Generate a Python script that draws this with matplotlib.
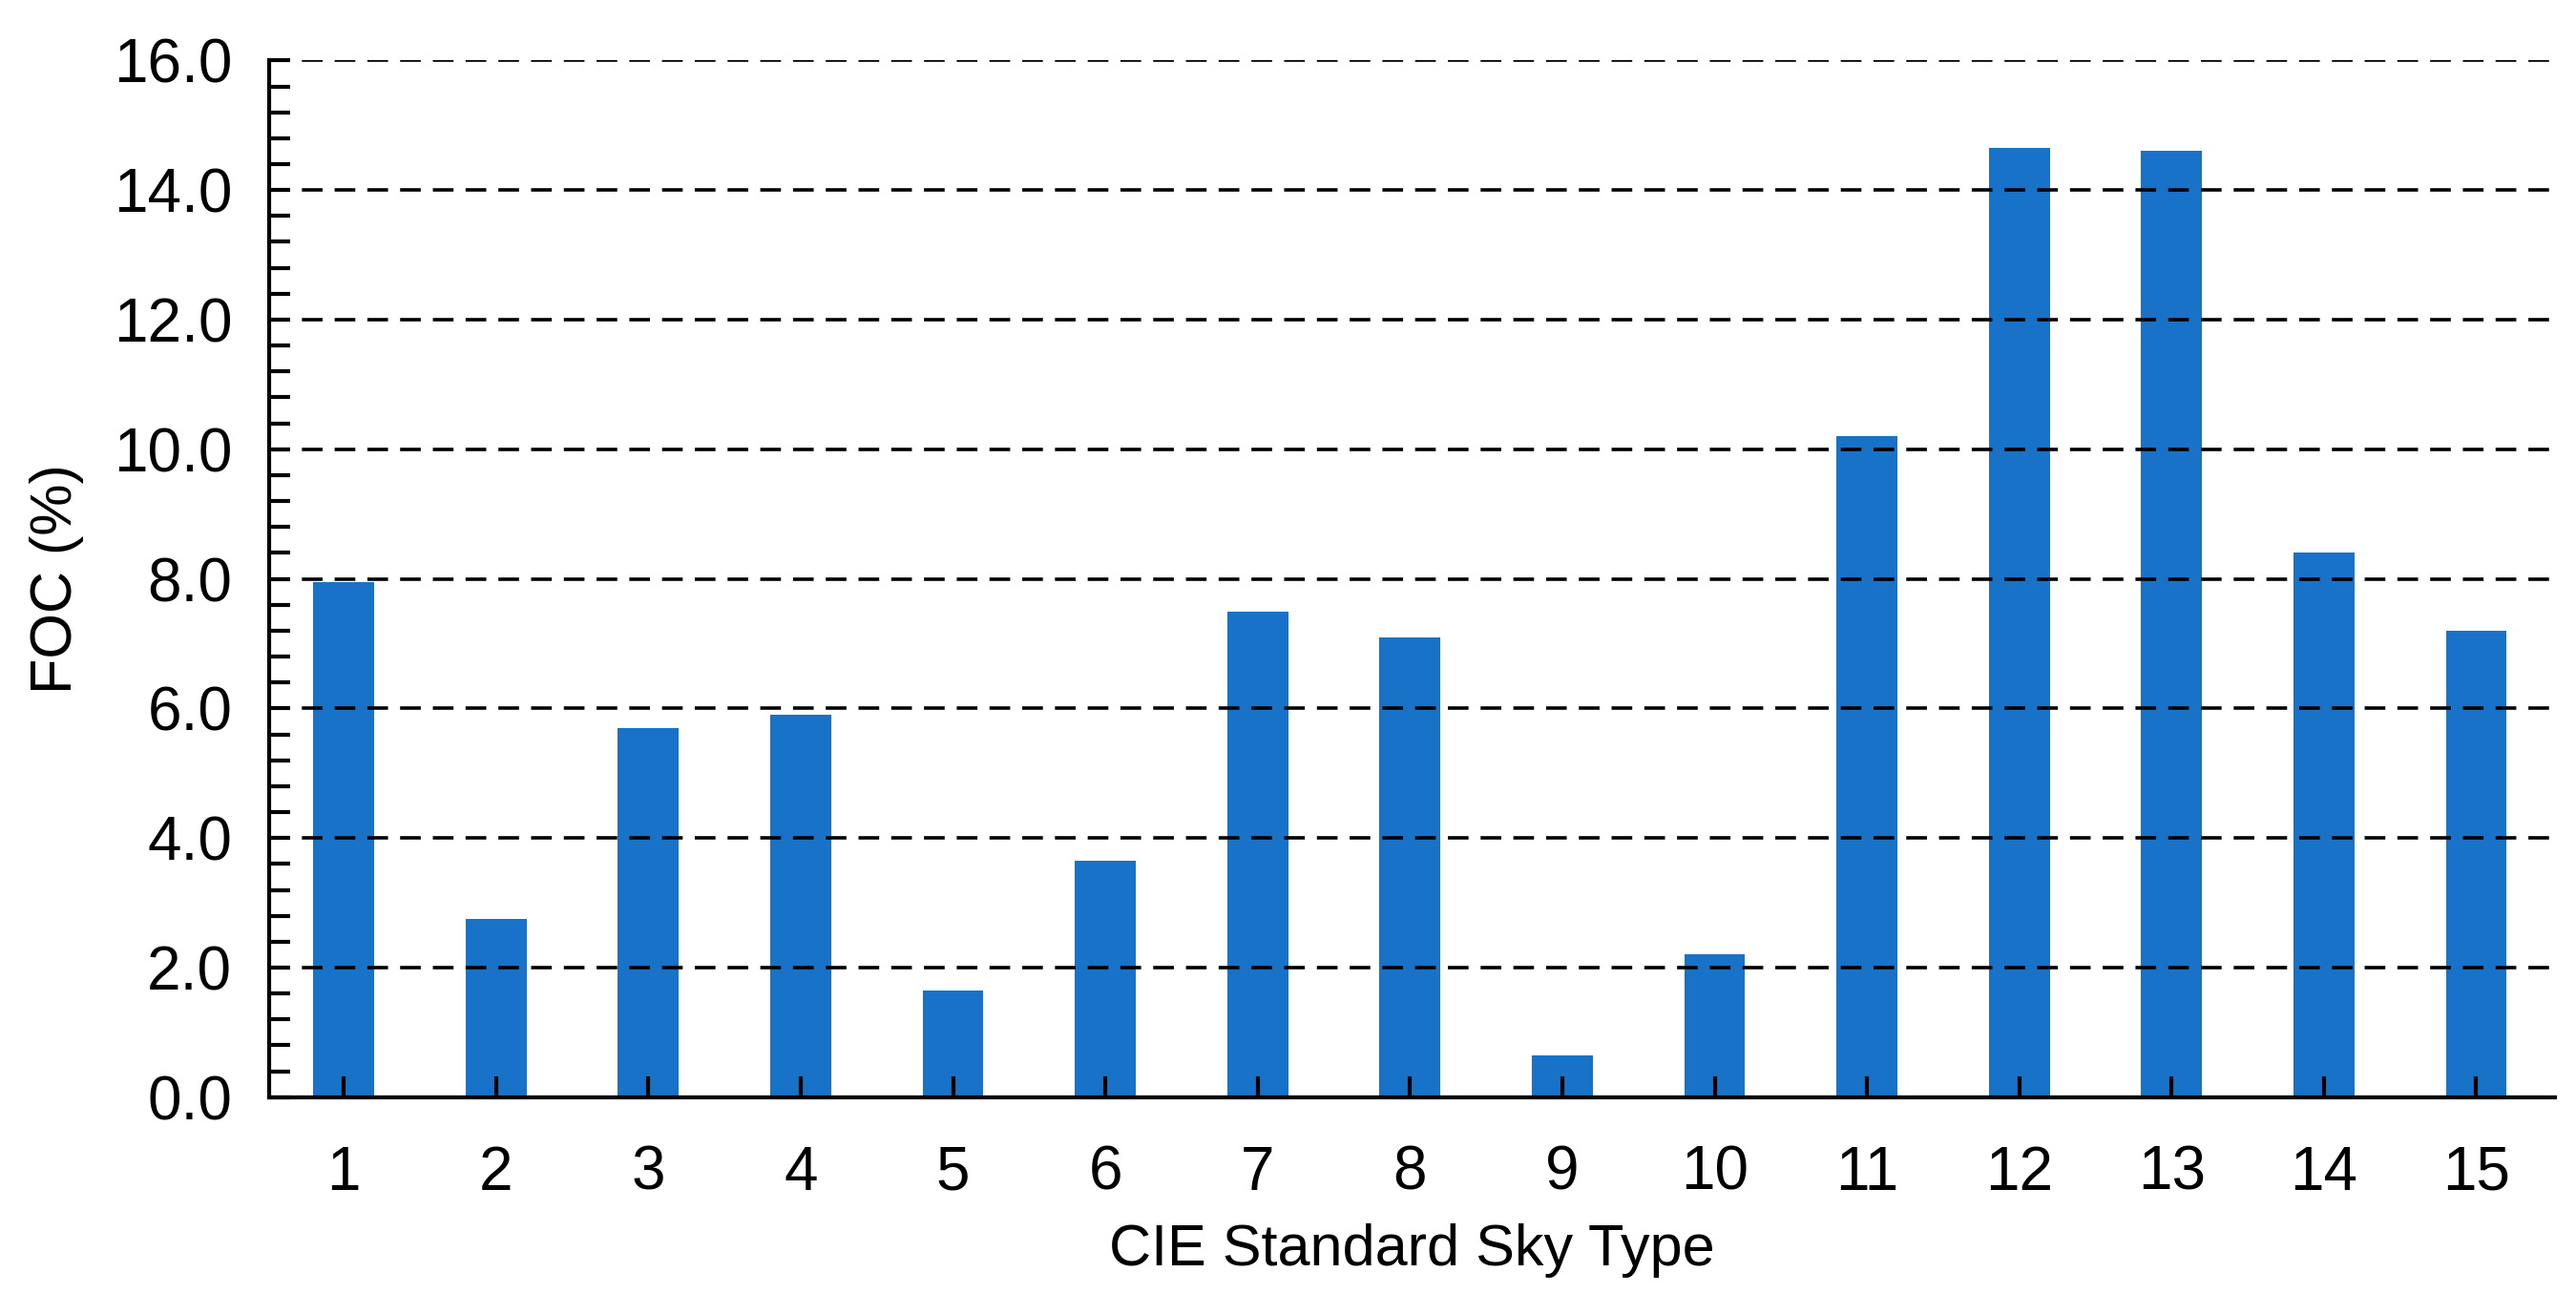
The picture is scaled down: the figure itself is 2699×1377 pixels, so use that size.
import matplotlib
matplotlib.use("Agg")
import matplotlib.pyplot as plt
from matplotlib.ticker import MultipleLocator

plt.rcParams['font.family'] = ['Liberation Sans', 'DejaVu Sans']

sky_types = list(range(1, 16))
foc = [7.95, 2.75, 5.7, 5.9, 1.65, 3.65, 7.5, 7.1, 0.65, 2.2, 10.2, 14.65, 14.6, 8.4, 7.2]

fig = plt.figure(figsize=(26.99, 13.77), dpi=100)
ax = fig.add_axes([0.1045, 0.165, 0.8875, 0.789])

ax.set_axisbelow(False)
ax.bar(sky_types, foc, width=0.4, color="#1872c8", zorder=1)

ax.set_xlim(0.51, 15.52)
ax.set_ylim(0, 16)
ax.set_xticks(sky_types)
ax.yaxis.set_major_locator(MultipleLocator(2))
ax.yaxis.set_minor_locator(MultipleLocator(0.4))
ax.yaxis.set_major_formatter(plt.FormatStrFormatter("%.1f"))
ax.yaxis.grid(True, which="major", linestyle=(0, (6, 3.5)), color="black", linewidth=2.6, zorder=2)

for s in ("top", "right"):
    ax.spines[s].set_visible(False)
for s in ("left", "bottom"):
    ax.spines[s].set_linewidth(3)

ax.tick_params(axis="both", which="major", direction="in", length=16, width=3,
               labelsize=46, pad=28)
ax.tick_params(axis="y", which="minor", direction="in", length=16, width=3)
ax.tick_params(axis="x", pad=36)

ax.set_xlabel("CIE Standard Sky Type", fontsize=44, labelpad=16)
ax.set_ylabel("FOC (%)", fontsize=44, labelpad=22)

fig.savefig("out.png", dpi=100)
